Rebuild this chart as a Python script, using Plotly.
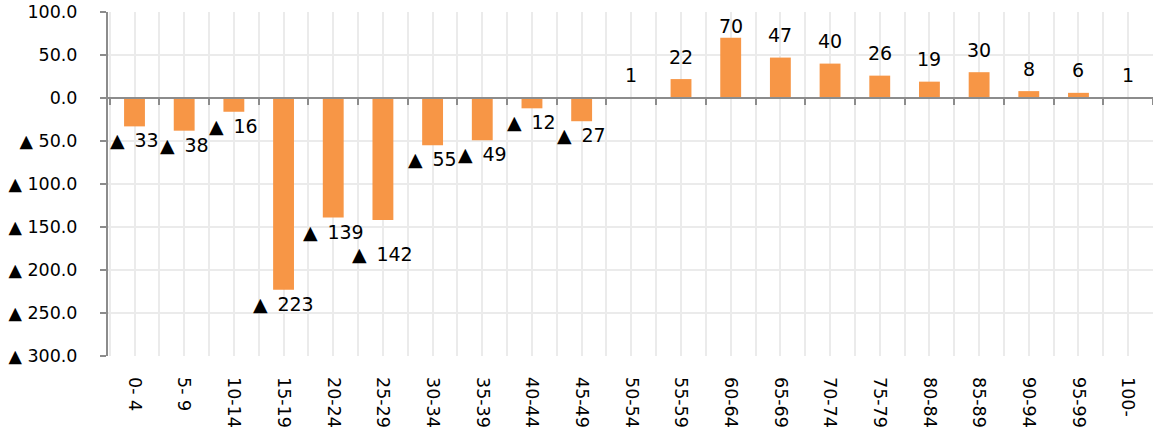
import plotly.graph_objects as go

# age groups and net change (negative = decrease, shown with ▲ in Japanese style)
age_groups = ["0- 4", "5- 9", "10-14", "15-19", "20-24", "25-29", "30-34", "35-39",
              "40-44", "45-49", "50-54", "55-59", "60-64", "65-69", "70-74", "75-79",
              "80-84", "85-89", "90-94", "95-99", "100-"]
net_change = [-33, -38, -16, -223, -139, -142, -55, -49, -12, -27, 1, 22, 70, 47,
              40, 26, 19, 30, 8, 6, 1]

y_ticks = [100, 50, 0, -50, -100, -150, -200, -250, -300]
y_tick_labels = ["100.0", "50.0", "0.0", "▲ 50.0", "▲ 100.0", "▲ 150.0",
                 "▲ 200.0", "▲ 250.0", "▲ 300.0"]

BAR_COLOR = "#F79646"
GRID = "#EBEBEB"
AXIS = "#8C8C8C"
FONT = "DejaVu Sans"
LABEL_TOP = 58   # labels of tall bars are kept inside the plot area
PX_PER_UNIT = 344 / 400
LINE = 22        # px between stacked labels


def fmt(v):
    return f"▲\u2009 {abs(v)}" if v < 0 else str(v)


fig = go.Figure()
fig.add_trace(go.Bar(
    x=age_groups, y=net_change,
    marker=dict(color=BAR_COLOR, line=dict(width=0)),
    hoverinfo="x+y", showlegend=False,
))
# invisible copy so the zero-line axis knows the categories
fig.add_trace(go.Scatter(
    x=age_groups, y=net_change, xaxis="x2", mode="none",
    hoverinfo="skip", showlegend=False,
))

prev = None  # (depth in px, wide) of the previous negative label
for g, v in zip(age_groups, net_change):
    if v > 0:
        fig.add_annotation(
            x=g, y=min(v, LABEL_TOP), text=fmt(v), showarrow=False,
            yanchor="middle", yshift=22.5,
            font=dict(family=FONT, size=19, color="black"),
        )
        prev = None
        continue
    wide = abs(v) >= 100
    depth = -v * PX_PER_UNIT + 14
    shift = -14
    if prev and (wide or prev[1]) and abs(depth - prev[0]) < LINE:
        shift -= prev[0] + LINE - depth
        depth = prev[0] + LINE
    prev = (depth, wide)
    fig.add_annotation(
        x=g, y=v, text=fmt(v), showarrow=False,
        yanchor="middle", yshift=shift,
        font=dict(family=FONT, size=19, color="black"),
    )

fig.update_layout(
    width=1153, height=434,
    margin=dict(l=108, r=0, t=12, b=78),
    plot_bgcolor="white", paper_bgcolor="white",
    bargap=0.58,
    font=dict(family=FONT, size=17.5, color="black"),
    xaxis=dict(
        type="category", showgrid=True, gridcolor=GRID, gridwidth=1.5,
        showline=False, ticks="", tickangle=90, ticklabelstandoff=20,
        tickfont=dict(size=17.5), zeroline=False,
    ),
    xaxis2=dict(
        type="category", overlaying="x", matches="x", anchor="free", position=0.75,
        side="bottom", showline=True, linecolor=AXIS, linewidth=2,
        ticks="outside", ticklen=6, tickcolor=AXIS, tickwidth=1.5,
        tickson="boundaries", showgrid=True, gridcolor=GRID, gridwidth=1.5,
        showticklabels=False, zeroline=False,
    ),
    yaxis=dict(
        range=[-300, 100], tickvals=y_ticks, ticktext=y_tick_labels,
        showgrid=True, gridcolor=GRID, gridwidth=1.5, zeroline=False,
        showline=True, linecolor=AXIS, linewidth=2,
        ticks="outside", ticklen=6, tickcolor=AXIS, tickwidth=1.5,
        ticklabelstandoff=19, ticklabeloverflow="allow", tickfont=dict(size=17.5),
    ),
)

# drop the default 8px body margin so the figure fills the window exactly
fig.write_html("out.html", config={"displayModeBar": False},
               post_script="document.body.style.margin='0';")
